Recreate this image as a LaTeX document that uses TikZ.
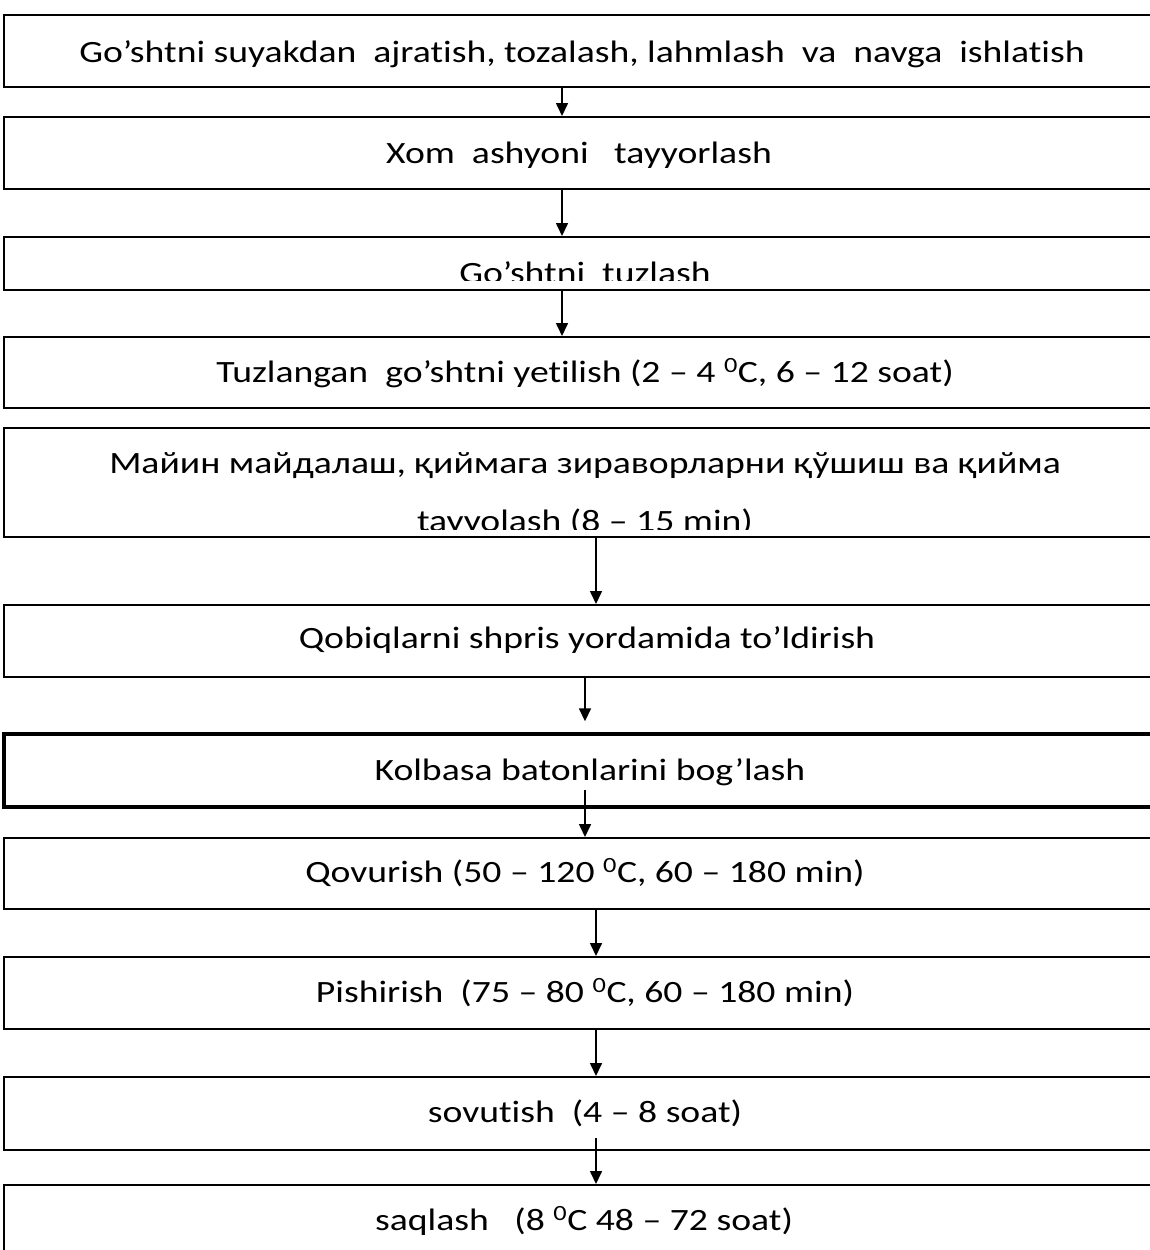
\documentclass[tikz,border=0pt]{standalone}
\usepackage{fontspec}
\setmainfont[Ligatures=NoCommon,FakeStretch=1.215]{Carlito}
\usetikzlibrary{arrows.meta}
\begin{document}
\begin{tikzpicture}[x=1pt,y=-1pt,
  stage/.style={draw=black,line width=2pt,minimum width=1162pt,inner sep=0pt,anchor=center},
  heavy/.style={line width=3.4pt},
  label/.style={anchor=base,inner sep=0pt,font=\fontsize{31}{36}\selectfont},
  arr/.style={draw=black,line width=1.6pt,-{Triangle[length=13pt,width=12pt]}}]
\useasboundingbox (0,0) rectangle (1150,1250);
\clip (0,0) rectangle (1150,1250);
% process stages
\node[stage,minimum height=72pt]  (b1)  at (585,51)    {};
\node[stage,minimum height=72pt]  (b2)  at (585,153)   {};
\node[stage,minimum height=53pt]  (b3)  at (585,263.5) {};
\node[stage,minimum height=71pt]  (b4)  at (585,372.5) {};
\node[stage,minimum height=109pt] (b5)  at (585,482.5) {};
\node[stage,minimum height=72pt]  (b6)  at (585,641)   {};
\node[stage,heavy,minimum height=73pt] (b7) at (585,770.5) {};
\node[stage,minimum height=71pt]  (b8)  at (585,873.5) {};
\node[stage,minimum height=72pt]  (b9)  at (585,993)   {};
\node[stage,minimum height=73pt]  (b10) at (585,1113.5) {};
\node[stage,minimum height=105pt] (b11) at (585,1237.5) {};
% stage texts (two of them run past the text area of their box and are cut off)
\node[label] (t1) at (582,62) {Go’shtni suyakdan\ \ ajratish, tozalash, lahmlash\ \ va\ \ navga\ \ ishlatish};
\node[label] (t2) at (579,163) {Xom\ \ ashyoni\ \ \ tayyorlash};
\begin{scope}
  \clip (0,0) rectangle (1150,280);
  \node[label] (t3) at (585,283) {Go’shtni\ \ tuzlash};
\end{scope}
\node[label] (t4) at (585,382) {Tuzlangan\ \ go’shtni yetilish (2 – 4 \textsuperscript{0}C, 6 – 12 soat)};
\node[label] (t5a) at (585,473) {Майин майдалаш, қиймага зираворларни қўшиш ва қийма};
\begin{scope}
  \clip (0,0) rectangle (1150,529);
  \node[label] (t5b) at (585,531) {tayyolash (8 – 15 min)};
\end{scope}
\node[label] (t6) at (587,648) {Qobiqlarni shpris yordamida to’ldirish};
\node[label] (t7) at (590,780) {Kolbasa batonlarini bog’lash};
\node[label] (t8) at (585,882) {Qovurish (50 – 120 \textsuperscript{0}C, 60 – 180 min)};
\node[label] (t9) at (585,1002) {Pishirish\ \ (75 – 80 \textsuperscript{0}C, 60 – 180 min)};
\node[label] (t10) at (585,1122) {sovutish\ \ (4 – 8 soat)};
\node[label] (t11) at (584,1230) {saqlash\ \ \ (8 \textsuperscript{0}C 48 – 72 soat)};
% connectors
\draw[arr] ([xshift=-23pt]b1.south) -- ([xshift=-23pt]b2.north);
\draw[arr] ([xshift=-23pt]b2.south) -- ([xshift=-23pt]b3.north);
\draw[arr] ([xshift=-23pt]b3.south) -- ([xshift=-23pt]b4.north);
\draw[arr] ([xshift=11pt]b5.south) -- ([xshift=11pt]b6.north);
\draw[arr] (b6.south) -- ([yshift=11pt]b7.north);
\draw[arr] ([yshift=19pt]b7.south) -- (b8.north);
\draw[arr] ([xshift=11pt]b8.south) -- ([xshift=11pt]b9.north);
\draw[arr] ([xshift=11pt]b9.south) -- ([xshift=11pt]b10.north);
\draw[arr] ([xshift=11pt,yshift=13pt]b10.south) -- ([xshift=11pt]b11.north);
\end{tikzpicture}
\end{document}
